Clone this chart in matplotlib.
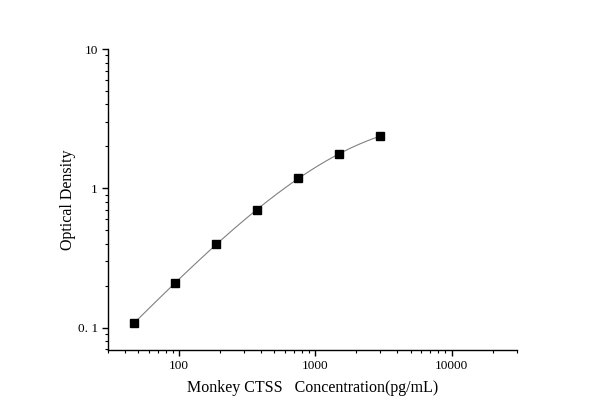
import numpy as np
import matplotlib
matplotlib.use("Agg")
import matplotlib.pyplot as plt
from matplotlib.ticker import LogLocator, FixedLocator, FixedFormatter, NullFormatter

conc = [46.875, 93.75, 187.5, 375, 750, 1500, 3000]
od = [0.108, 0.21, 0.397, 0.70, 1.185, 1.77, 2.37]
xticks = [100, 1000, 10000]
xticklabels = ["100", "1000", "10000"]
yticks = [0.1, 1, 10]
yticklabels = ["0. 1", "1", "10"]

plt.rcParams['font.family'] = ['Liberation Serif', 'DejaVu Serif']

fig = plt.figure(figsize=(6, 4.19), dpi=100)
ax = fig.add_axes([0.1795, 0.1647, 0.6815, 0.7183])

# fitted curve in log-log space
lx = np.log10(conc)
ly = np.log10(od)
coef = np.polyfit(lx, ly, 3)
xs = np.linspace(lx[0], lx[-1], 200)
ax.plot(10**xs, 10**np.polyval(coef, xs), color='#808080', lw=0.8, zorder=1)
ax.plot(conc, od, 's', color='black', ms=5.2, zorder=2)

ax.set_xscale('log')
ax.set_yscale('log')
ax.set_xlim(30, 30000)
ax.set_ylim(0.0692, 10)

ax.xaxis.set_major_locator(FixedLocator(xticks))
ax.xaxis.set_major_formatter(FixedFormatter(xticklabels))
ax.yaxis.set_major_locator(FixedLocator(yticks))
ax.yaxis.set_major_formatter(FixedFormatter(yticklabels))
ax.xaxis.set_minor_locator(LogLocator(base=10, subs=np.arange(2, 10), numticks=20))
ax.yaxis.set_minor_locator(LogLocator(base=10, subs=np.arange(2, 10), numticks=20))
ax.xaxis.set_minor_formatter(NullFormatter())
ax.yaxis.set_minor_formatter(NullFormatter())

for s in ['top', 'right']:
    ax.spines[s].set_visible(False)
for s in ['left', 'bottom']:
    ax.spines[s].set_linewidth(1.0)

ax.tick_params(which='major', direction='out', length=4, width=1, labelsize=9.5, pad=3)
ax.tick_params(which='minor', direction='out', length=2.5, width=0.8)

ax.set_xlabel("Monkey CTSS   Concentration(pg/mL)", fontsize=11.5, labelpad=6)
ax.set_ylabel("Optical Density", fontsize=11.5, labelpad=1)

fig.savefig("out.png", dpi=100)
